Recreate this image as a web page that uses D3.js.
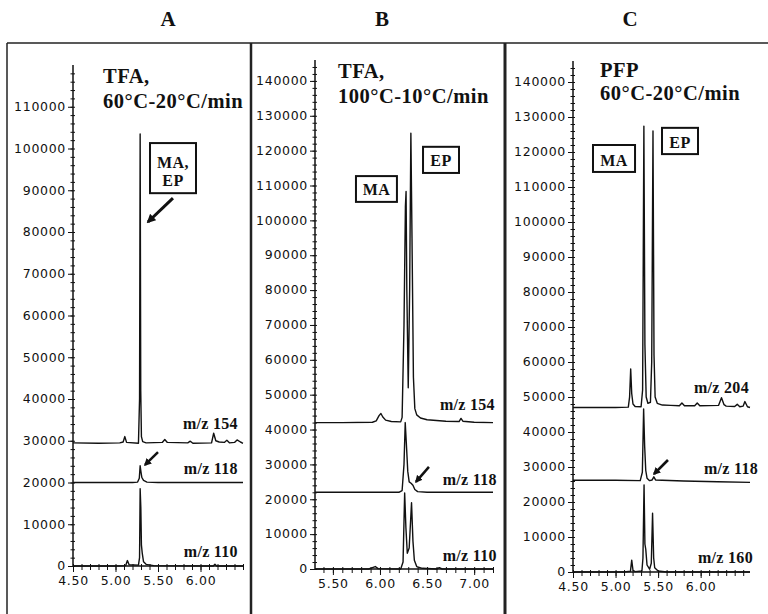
<!DOCTYPE html>
<html>
<head>
<meta charset="utf-8">
<script src="https://cdn.jsdelivr.net/npm/d3@7"></script>
<style>
  body { margin: 0; background: #fff; }
  svg { display: block; }
  .tick text { font-family: "DejaVu Sans", sans-serif; font-size: 12.5px; letter-spacing: 0.7px; fill: #111; }
  .tick line { stroke: #111; stroke-width: 1; }
  .serif { font-family: "Liberation Serif", "Times New Roman", serif; font-weight: bold; fill: #111; }
</style>
</head>
<body>
<svg id="chart" width="768" height="614"></svg>
<script>
// Retention time (min), abundance
const traceA154 = [[4.50, 29500], [4.80, 29400], [5.05, 29500], [5.09, 29700], [5.11, 31000], [5.13, 29600],
  [5.27, 29400], [5.283, 40000], [5.29, 103500], [5.297, 42000], [5.305, 31000], [5.32, 29800], [5.36, 29500],
  [5.55, 29600], [5.58, 30300], [5.61, 29600], [5.85, 29500], [5.88, 29900], [5.91, 29400], [6.13, 29500],
  [6.155, 31800], [6.18, 30000], [6.22, 29700], [6.28, 29600], [6.31, 30100], [6.34, 29500], [6.40, 29600],
  [6.43, 30200], [6.47, 29700], [6.50, 29400]];
const traceA118 = [[4.50, 20000], [5.20, 20000], [5.26, 20100], [5.28, 21000], [5.29, 24000], [5.30, 22500],
  [5.31, 21200], [5.33, 20500], [5.37, 20100], [5.50, 20000], [6.50, 20000]];
const traceA110 = [[4.50, 0], [5.00, 0], [5.12, 100], [5.14, 1300], [5.16, 300], [5.27, 200], [5.283, 2000],
  [5.29, 18500], [5.298, 14000], [5.305, 5000], [5.315, 3000], [5.33, 1000], [5.36, 400], [5.45, 100],
  [6.15, 0], [6.17, 400], [6.19, 0], [6.50, 0]];

const traceB154 = [[5.31, 42000], [5.60, 42000], [5.92, 42100], [5.96, 42500], [5.99, 44000], [6.01, 44600],
  [6.03, 43600], [6.06, 42700], [6.12, 42300], [6.22, 42200], [6.235, 43500], [6.255, 70000], [6.27, 104000],
  [6.277, 108300], [6.285, 80000], [6.30, 52000], [6.315, 80000], [6.328, 125000], [6.34, 95000],
  [6.355, 55000], [6.37, 46000], [6.39, 44200], [6.43, 43300], [6.50, 42800], [6.70, 42400], [6.84, 42300],
  [6.86, 43200], [6.88, 42400], [7.00, 42100], [7.20, 42000]];
const traceB118 = [[5.31, 22000], [6.20, 22000], [6.235, 22500], [6.255, 30000], [6.268, 42000], [6.28, 36000],
  [6.295, 28000], [6.31, 25000], [6.33, 24600], [6.35, 24000], [6.37, 22800], [6.40, 22200], [6.50, 22000],
  [7.20, 22000]];
const traceB110 = [[5.31, 0], [5.88, 0], [5.92, 400], [5.95, 700], [5.98, 100], [6.22, 0], [6.245, 2000],
  [6.262, 21800], [6.275, 12000], [6.29, 4500], [6.31, 6000], [6.335, 19000], [6.35, 8000], [6.365, 2500],
  [6.39, 700], [6.45, 200], [6.60, 0], [6.63, 400], [6.66, 0], [7.20, 0]];

const traceC204 = [[4.50, 47000], [5.00, 47000], [5.15, 47100], [5.165, 50000], [5.178, 58000], [5.19, 51000],
  [5.205, 48000], [5.23, 47300], [5.30, 47200], [5.318, 52000], [5.333, 127400], [5.345, 65000], [5.36, 50000],
  [5.38, 48200], [5.41, 48500], [5.425, 60000], [5.44, 126000], [5.452, 62000], [5.465, 50000], [5.49, 48200],
  [5.55, 47700], [5.65, 47600], [5.75, 47500], [5.78, 48300], [5.81, 47500], [5.93, 47500], [5.96, 48300],
  [5.99, 47500], [6.21, 47600], [6.245, 49800], [6.275, 47800], [6.30, 47400], [6.40, 47300], [6.43, 47900],
  [6.46, 47200], [6.50, 47400], [6.52, 48700], [6.55, 47200], [6.58, 47000]];
const traceC118 = [[4.50, 26200], [5.00, 26200], [5.29, 26100], [5.315, 28500], [5.33, 46600], [5.342, 36000],
  [5.355, 29000], [5.37, 26800], [5.40, 26100], [5.43, 26300], [5.45, 27200], [5.47, 26300], [5.55, 26200],
  [5.80, 26000], [6.20, 25800], [6.58, 25600]];
const traceC160 = [[4.50, 0], [5.10, 0], [5.175, 200], [5.19, 3400], [5.205, 500], [5.23, 100], [5.31, 300],
  [5.322, 4000], [5.335, 24900], [5.345, 8000], [5.355, 6500], [5.37, 2000], [5.40, 800], [5.42, 2500],
  [5.435, 16800], [5.448, 4000], [5.46, 1200], [5.50, 300], [5.60, 0], [6.58, 0]];

const yTicks110 = [0, 10000, 20000, 30000, 40000, 50000, 60000, 70000, 80000, 90000, 100000, 110000];
const yTicks140 = [0, 10000, 20000, 30000, 40000, 50000, 60000, 70000, 80000, 90000, 100000, 110000,
  120000, 130000, 140000];
const xTicksAC = [4.5, 5.0, 5.5, 6.0];
const xTicksB = [5.5, 6.0, 6.5, 7.0];

const panelLetters = ['A', 'B', 'C'];
const derivLines = [['TFA,', '60°C-20°C/min'], ['TFA,', '100°C-10°C/min'], ['PFP', '60°C-20°C/min']];
const ionsA = ['m/z 154', 'm/z 118', 'm/z 110'];
const ionsB = ['m/z 154', 'm/z 118', 'm/z 110'];
const ionsC = ['m/z 204', 'm/z 118', 'm/z 160'];

// layout of each panel; annotation anchors are in data units
const panels = [
  { left: 73, right: 243, top: 65, bottom: 566, xDomain: [4.5, 6.5], yDomain: [0, 120000],
    letterX: 168, traces: [traceA154, traceA118, traceA110], yTicks: yTicks110, xTicks: xTicksAC,
    minorX: d3.range(4.5, 6.51, 0.1), title: derivLines[0], titleAt: [4.853, 115700, 109700],
    ions: ionsA, ionAt: [[6.44, 32800], [6.44, 22000], [6.44, 2200]],
    boxes: [{ lines: ['MA,', 'EP'], x0: 5.406, x1: 5.947, y0: 101300, y1: 89300, tx: 5.676, ty: [95300, 91000] }],
    arrows: [{ from: [5.676, 88100], to: [5.382, 82400], w: 3 }, { from: [5.50, 27300], to: [5.347, 24200], w: 2.5 }] },
  { left: 315, right: 493, top: 60, bottom: 569, xDomain: [5.31, 7.2], yDomain: [0, 146000],
    letterX: 382, traces: [traceB154, traceB118, traceB110], yTicks: yTicks140, xTicks: xTicksB,
    minorX: d3.range(5.4, 7.21, 0.1), title: derivLines[1], titleAt: [5.554, 140900, 133700],
    ions: ionsB, ionAt: [[7.22, 45600], [7.24, 24100], [7.24, 2300]],
    boxes: [{ lines: ['MA'], x0: 5.745, x1: 6.18, y0: 112700, y1: 105300, tx: 5.963, ty: [107300] },
            { lines: ['EP'], x0: 6.457, x1: 6.839, y0: 121100, y1: 113600, tx: 6.648, ty: [115700] }],
    arrows: [{ from: [6.52, 29300], to: [6.382, 25000], w: 2.5 }] },
  { left: 573, right: 750, top: 61, bottom: 572, xDomain: [4.5, 6.58], yDomain: [0, 146000],
    letterX: 630, traces: [traceC204, traceC118, traceC160], yTicks: yTicks140, xTicks: xTicksAC,
    minorX: d3.range(4.5, 6.59, 0.1), title: derivLines[2], titleAt: [4.817, 141400, 134900],
    ions: ionsC, ionAt: [[6.568, 51100], [6.674, 28000], [6.615, 2600]],
    boxes: [{ lines: ['MA'], x0: 4.735, x1: 5.229, y0: 122000, y1: 114300, tx: 4.982, ty: [116000] },
            { lines: ['EP'], x0: 5.546, x1: 5.969, y0: 126900, y1: 119400, tx: 5.757, ty: [121100] }],
    arrows: [{ from: [5.616, 32000], to: [5.452, 28000], w: 2.5 }] }
];

const svg = d3.select('#chart');

svg.append('defs').append('marker')
  .attr('id', 'head')
  .attr('viewBox', '0 0 10 10')
  .attr('refX', 8).attr('refY', 5)
  .attr('markerWidth', 3).attr('markerHeight', 3)
  .attr('orient', 'auto')
  .append('path').attr('d', 'M0,0 L10,5 L0,10 z').attr('fill', '#111');

// frame round the three panels
const frame = svg.append('g').attr('stroke', '#222').attr('fill', 'none');
frame.append('line').attr('x1', 7).attr('x2', 768).attr('y1', 43).attr('y2', 43).attr('stroke-width', 1.5);
frame.append('line').attr('x1', 7).attr('x2', 7).attr('y1', 43).attr('y2', 614).attr('stroke-width', 1.5);
frame.append('line').attr('x1', 251).attr('x2', 251).attr('y1', 43).attr('y2', 614).attr('stroke-width', 2.5);
frame.append('line').attr('x1', 505).attr('x2', 505).attr('y1', 43).attr('y2', 614).attr('stroke-width', 3);

const line = d3.line();

panels.forEach((p, i) => {
  const x = d3.scaleLinear().domain(p.xDomain).range([p.left, p.right]);
  const y = d3.scaleLinear().domain(p.yDomain).range([p.bottom, p.top]);
  const g = svg.append('g');
  const noDomain = s => s.select('.domain').remove();

  // panel letter
  g.append('text').attr('class', 'serif')
    .attr('x', p.letterX).attr('y', 26)
    .attr('text-anchor', 'middle').style('font-size', '21px')
    .text(panelLetters[i]);

  // y axis with minor ticks every 2000
  const yMinor = d3.range(0, p.yDomain[1], 2000);
  g.append('g').attr('transform', `translate(${p.left},0)`)
    .call(d3.axisLeft(y).tickValues(yMinor).tickSize(2.5).tickFormat('')).call(noDomain);
  g.append('g').attr('transform', `translate(${p.left},0)`)
    .call(d3.axisRight(y).tickValues(yMinor).tickSize(2).tickFormat('')).call(noDomain);
  g.append('g').attr('transform', `translate(${p.left},0)`)
    .call(d3.axisLeft(y).tickValues(p.yTicks).tickSize(5).tickPadding(2).tickFormat(d3.format('d')))
    .call(noDomain)
    .call(s => s.selectAll('.tick text').attr('dy', '0.3em'));
  g.append('line')
    .attr('x1', p.left).attr('x2', p.left)
    .attr('y1', y(p.yDomain[0])).attr('y2', y(p.yDomain[1]))
    .attr('stroke', '#111').attr('stroke-width', 1.5);

  // x axis
  g.append('g').attr('transform', `translate(0,${p.bottom})`)
    .call(d3.axisBottom(x).tickValues(p.minorX).tickSize(4).tickFormat('')).call(noDomain);
  g.append('g').attr('transform', `translate(0,${p.bottom})`)
    .call(d3.axisTop(x).tickValues(p.minorX).tickSize(2).tickFormat('')).call(noDomain);
  g.append('g').attr('transform', `translate(0,${p.bottom})`)
    .call(d3.axisBottom(x).tickValues(p.xTicks).tickSize(6).tickPadding(4).tickFormat(d3.format('.2f')))
    .call(noDomain);
  g.append('line')
    .attr('x1', x(p.xDomain[0])).attr('x2', x(p.xDomain[1]))
    .attr('y1', p.bottom).attr('y2', p.bottom)
    .attr('stroke', '#111').attr('stroke-width', 1.5);

  // chromatogram traces
  g.selectAll('path.trace')
    .data(p.traces)
    .join('path')
    .attr('class', 'trace')
    .attr('fill', 'none')
    .attr('stroke', '#111')
    .attr('stroke-width', 1.4)
    .attr('stroke-linejoin', 'round')
    .attr('d', d => line(d.map(([t, v]) => [x(t), y(v)])));

  // derivative / temperature programme
  const title = g.append('text').attr('class', 'serif').style('font-size', '20.5px').style('letter-spacing', '0.5px');
  title.append('tspan').attr('x', x(p.titleAt[0])).attr('y', y(p.titleAt[1])).text(p.title[0]);
  title.append('tspan').attr('x', x(p.titleAt[0])).attr('y', y(p.titleAt[2])).text(p.title[1]);

  // ion labels
  g.selectAll('text.ion')
    .data(p.ions)
    .join('text')
    .attr('class', 'ion serif')
    .attr('text-anchor', 'end')
    .style('font-size', '16px')
    .style('letter-spacing', '0.3px')
    .attr('x', (d, k) => x(p.ionAt[k][0]))
    .attr('y', (d, k) => y(p.ionAt[k][1]))
    .text(d => d);

  // compound boxes
  p.boxes.forEach(b => {
    g.append('rect')
      .attr('x', x(b.x0)).attr('y', y(b.y0))
      .attr('width', x(b.x1) - x(b.x0)).attr('height', y(b.y1) - y(b.y0))
      .attr('fill', '#fff').attr('stroke', '#111').attr('stroke-width', 2);
    b.lines.forEach((s, k) => {
      g.append('text').attr('class', 'serif')
        .attr('x', x(b.tx)).attr('y', y(b.ty[k]))
        .attr('text-anchor', 'middle').style('font-size', '16px').style('letter-spacing', '0.5px')
        .text(s);
    });
  });

  // arrows
  p.arrows.forEach(a => {
    g.append('line')
      .attr('x1', x(a.from[0])).attr('y1', y(a.from[1]))
      .attr('x2', x(a.to[0])).attr('y2', y(a.to[1]))
      .attr('stroke', '#111').attr('stroke-width', a.w)
      .attr('marker-end', 'url(#head)');
  });
});
</script>
</body>
</html>
